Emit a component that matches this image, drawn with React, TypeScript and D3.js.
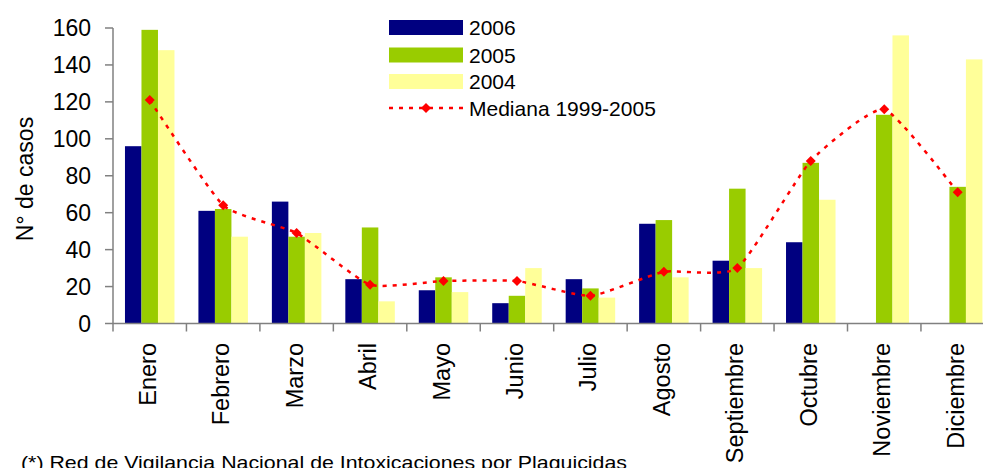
import React from "react";
import * as d3 from "d3";

const months = ["Enero","Febrero","Marzo","Abril","Mayo","Junio","Julio","Agosto","Septiembre","Octubre","Noviembre","Diciembre"];
const s2006 = [96, 61, 66, 24, 18, 11, 24, 54, 34, 44, 0, 0];
const s2005 = [159, 62, 47, 52, 25, 15, 19, 56, 73, 87, 113, 74];
const s2004 = [148, 47, 49, 12, 17, 30, 14, 25, 30, 67, 156, 143];
const mediana = [121, 64, 49, 21, 23, 23, 15, 28, 30, 88, 116, 71];
const yTicks = [0, 20, 40, 60, 80, 100, 120, 140, 160];
const seriesNames = ["2006", "2005", "2004"];
const seriesColors = ["#000080", "#99CC00", "#FFFF99"];
const medianaLabel = "Mediana 1999-2005";
const yTitle = "N° de casos";
const footnote = "(*) Red de Vigilancia Nacional de Intoxicaciones por Plaguicidas";

const W = 983, H = 468;
const left = 113, right = 994.4, top = 28, bottom = 323.5;
const font = "Arial, 'Liberation Sans', Helvetica, sans-serif";

export default function App() {
  const x = d3.scaleBand<string>().domain(months).range([left, right]).padding(0);
  const bw = x.bandwidth();
  const x1 = d3.scaleBand<string>().domain(seriesNames).range([bw * 0.163, bw * 0.837]).padding(0);
  const y = d3.scaleLinear().domain([0, 160]).range([bottom, top]);
  const seriesData = [s2006, s2005, s2004];

  const linePts: [number, number][] = mediana.map((v, i) => [x(months[i])! + bw / 2, y(v)]);
  const line = d3.line().curve(d3.curveCardinal.tension(0.5))(linePts) || "";
  const diamond = (cx: number, cy: number, r: number) =>
    `M${cx},${cy - r}L${cx + r},${cy}L${cx},${cy + r}L${cx - r},${cy}Z`;

  const axisColor = "#808080";
  const legX = 389, legW = 74, legRows = [27.5, 55, 81.5, 108];

  return (
    <svg width={W} height={H} style={{ position: "absolute", left: 0, top: 0, overflow: "hidden", background: "#fff" }} fontFamily={font}>
      <rect x={0} y={0} width={W} height={H} fill="#fff" />
      {seriesData.map((arr, si) =>
        arr.map((v, i) =>
          v > 0 ? (
            <rect key={`${si}-${i}`} x={x(months[i])! + x1(seriesNames[si])!} y={y(v)} width={x1.bandwidth()} height={y(0) - y(v)} fill={seriesColors[si]} />
          ) : null
        )
      )}
      <line x1={left} x2={left} y1={y(160)} y2={bottom} stroke={axisColor} strokeWidth={1.5} />
      {yTicks.map((t) => (
        <g key={t}>
          <line x1={left - 8} x2={left} y1={y(t)} y2={y(t)} stroke={axisColor} strokeWidth={1.5} />
          <text x={91} y={y(t)} dy="0.36em" textAnchor="end" fontSize={23} fill="#000">{t}</text>
        </g>
      ))}
      <text transform={`translate(33,179) rotate(-90)`} textAnchor="middle" fontSize={23} fill="#000">{yTitle}</text>
      <line x1={left} x2={right} y1={bottom} y2={bottom} stroke={axisColor} strokeWidth={1.5} />
      {months.map((m) => (
        <line key={m} x1={x(m)!} x2={x(m)!} y1={bottom} y2={bottom + 8} stroke={axisColor} strokeWidth={1.5} />
      ))}
      <line x1={right} x2={right} y1={bottom} y2={bottom + 8} stroke={axisColor} strokeWidth={1.5} />
      {months.map((m) => (
        <text key={m} transform={`translate(${x(m)! + bw / 2 + 6},343) rotate(-90)`} textAnchor="end" fontSize={23.5} fill="#000">{m}</text>
      ))}
      <path d={line} fill="none" stroke="#FF0000" strokeWidth={2.5} strokeDasharray="4 6" />
      {linePts.map(([cx, cy], i) => (
        <path key={i} d={diamond(cx, cy, 5)} fill="#FF0000" />
      ))}
      {seriesNames.map((n, i) => (
        <g key={n}>
          <rect x={legX} y={legRows[i] - 7.5} width={legW} height={15} fill={seriesColors[i]} />
          <text x={469} y={legRows[i]} dy="0.36em" fontSize={21} fill="#000">{n}</text>
        </g>
      ))}
      <line x1={legX} x2={legX + legW} y1={legRows[3]} y2={legRows[3]} stroke="#FF0000" strokeWidth={2.5} strokeDasharray="4 6" />
      <path d={diamond(legX + legW / 2, legRows[3], 5)} fill="#FF0000" />
      <text x={469} y={legRows[3]} dy="0.36em" fontSize={21} fill="#000">{medianaLabel}</text>
      <text x={21} y={469} fontSize={19} fill="#000" textLength={606} lengthAdjust="spacingAndGlyphs">{footnote}</text>
    </svg>
  );
}
